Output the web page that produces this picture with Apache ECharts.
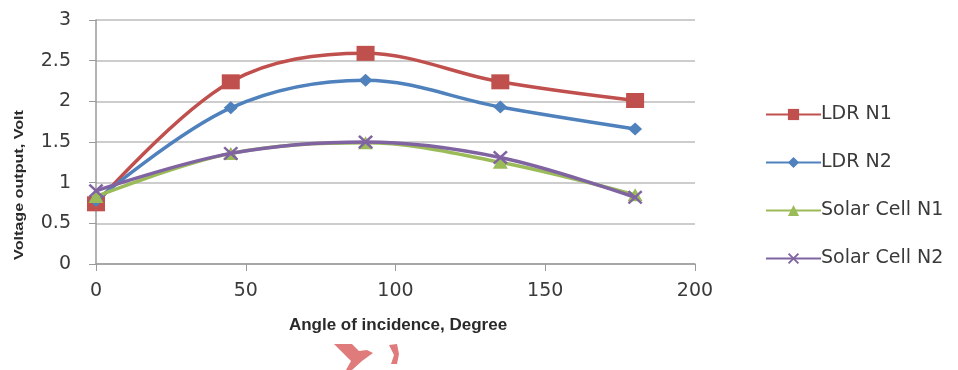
<!DOCTYPE html>
<html>
<head>
<meta charset="utf-8">
<script src="https://cdn.jsdelivr.net/npm/echarts@6/dist/echarts.min.js"></script>
<style>html,body{margin:0;padding:0;background:#fff}#c{width:958px;height:370px}</style>
</head>
<body>
<div id="c"></div>
<script>
const angles = [0, 45, 90, 135, 180];
const ldrN1 = [0.74, 2.24, 2.59, 2.24, 2.01];
const ldrN2 = [0.78, 1.92, 2.26, 1.93, 1.66];
const solarN1 = [0.83, 1.36, 1.49, 1.25, 0.85];
const solarN2 = [0.9, 1.36, 1.5, 1.31, 0.82];
const seriesNames = ['LDR N1', 'LDR N2', 'Solar Cell N1', 'Solar Cell N2'];
const xTicks = [0, 50, 100, 150, 200];
const yTicks = [0, 0.5, 1, 1.5, 2, 2.5, 3];
const xTitle = 'Angle of incidence, Degree';
const yTitle = 'Voltage output, Volt';

const colors = ['#C0504D', '#4F81BD', '#9BBB59', '#8064A2'];
const symbols = ['rect', 'diamond', 'triangle',
  'path://M0,1.2L1.2,0L5,3.8L8.8,0L10,1.2L6.2,5L10,8.8L8.8,10L5,6.2L1.2,10L0,8.8L3.8,5Z'];
const sizes = [[18, 15], [14, 13], [15, 13], [15, 14]];
const allData = [ldrN1, ldrN2, solarN1, solarN2];

const chart = echarts.init(document.getElementById('c'), null, {renderer: 'canvas'});
const font = 'DejaVu Sans';
chart.setOption({
  animation: false,
  color: colors,
  grid: {left: 96, right: 263, top: 20, bottom: 106},
  legend: {
    orient: 'vertical', left: 760, top: 100,
    itemWidth: 55, itemHeight: 14, itemGap: 29,
    textStyle: {fontFamily: font, fontSize: 19, lineHeight: 19, color: '#3a3a3a', padding: [0, 0, 0, -5]},
    data: seriesNames
  },
  xAxis: {
    type: 'value', min: xTicks[0], max: xTicks[xTicks.length - 1], interval: 50,
    axisLine: {show: true, lineStyle: {color: '#9a9a9a', width: 1.5}},
    axisTick: {show: true, length: 7, lineStyle: {color: '#9a9a9a'}},
    splitLine: {show: false},
    axisLabel: {fontFamily: font, fontSize: 19, color: '#3a3a3a', margin: 18}
  },
  yAxis: {
    type: 'value', min: yTicks[0], max: yTicks[yTicks.length - 1], interval: 0.5,
    axisLine: {show: true, lineStyle: {color: '#9a9a9a', width: 1.5}},
    axisTick: {show: true, length: 7, lineStyle: {color: '#9a9a9a'}},
    splitLine: {show: true, lineStyle: {color: '#bdbdbd', width: 1.5}},
    axisLabel: {fontFamily: font, fontSize: 19, color: '#3a3a3a', margin: 25}
  },
  graphic: [
    {type: 'text', x: 19.5, y: 185, rotation: Math.PI / 2, scaleX: 1.24,
     style: {text: yTitle, font: 'bold 13px "Liberation Sans"', fill: '#2a2a2a', align: 'center', verticalAlign: 'middle'}},
    {type: 'text', x: 398, y: 325,
     style: {text: xTitle, font: 'bold 17px "Liberation Sans"', fill: '#2a2a2a', align: 'center', verticalAlign: 'middle'}},
    {type: 'polygon', shape: {points: [[334,344],[352,344],[359,351],[367,350],[373,353],[362,361],[352,370],[346,370],[351,361]]}, style: {fill: '#e07b7b'}},
    {type: 'polygon', shape: {points: [[389,345],[397,344],[399,354],[397,364],[391,364],[394,355]]}, style: {fill: '#e07b7b'}}
  ],
  series: seriesNames.map((n, i) => ({
    name: n, type: 'line', smooth: 0.35,
    data: angles.map((a, j) => [a, allData[i][j]]),
    symbol: symbols[i], symbolSize: sizes[i],
    lineStyle: {width: 3.5, color: colors[i]},
    itemStyle: {color: colors[i]},
    z: 2 + i
  }))
});
</script>
</body>
</html>
